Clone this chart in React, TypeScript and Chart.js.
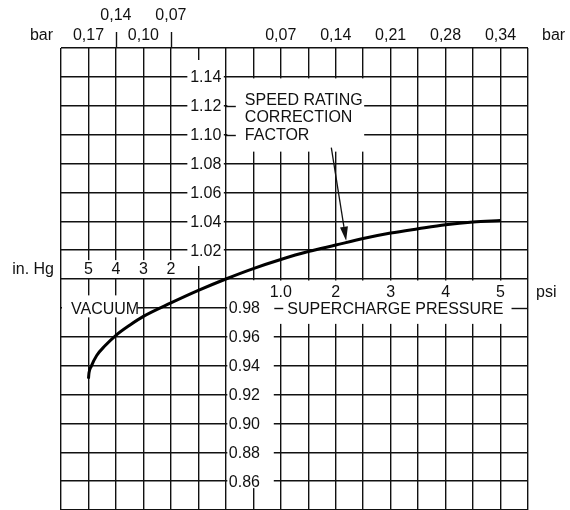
import React, { useEffect, useRef } from 'react';
import { Chart, registerables } from 'chart.js';

Chart.register(...registerables);

// Speed rating correction factor vs. pressure.
// x axis in psi (vacuum drawn to the left; 1 in.Hg is drawn as 0.5 psi on this chart)
const pressurePsi = [-2.5, -2.49, -2.45, -2.35, -2.2, -2.0, -1.75, -1.5, -1.0, -0.5, 0, 0.5, 1.0, 1.5, 2.0, 2.5, 3.0, 3.5, 4.0, 4.5, 5.0];
const correctionFactor = [0.931, 0.935, 0.9395, 0.947, 0.9537, 0.961, 0.968, 0.9741, 0.9834, 0.9921, 1.0, 1.0072, 1.0135, 1.019, 1.0235, 1.028, 1.0318, 1.0348, 1.0376, 1.0395, 1.0405];

const factorTicksUpper = [1.14, 1.12, 1.10, 1.08, 1.06, 1.04, 1.02];
const factorTicksLower = [0.98, 0.96, 0.94, 0.92, 0.90, 0.88, 0.86];

const psiTicks = [1, 2, 3, 4, 5];
const psiTickLabels = ['1.0', '2', '3', '4', '5'];
const vacuumInHg = [5, 4, 3, 2];

const barRightLabels = ['0,07', '0,14', '0,21', '0,28', '0,34']; // at psi 1..5
const barRightPsi = [1, 2, 3, 4, 5];
const barLeftLowerLabels = ['0,17', '0,10'];
const barLeftLowerInHg = [5, 3];
const barLeftUpperLabels = ['0,14', '0,07'];
const barLeftUpperInHg = [4, 2];

const titleLines = ['SPEED RATING', 'CORRECTION', 'FACTOR'];
const arrowFrom = { x: 1.92, y: 1.091 };
const arrowTo = { x: 2.19, y: 1.0265 };

const IN_HG_TO_AXIS = 0.5;
const X_MIN = -3, X_MAX = 5.5, X_STEP = 0.5;
const Y_MIN = 0.84, Y_MAX = 1.16, Y_STEP = 0.02;

const FONT = '16px "Liberation Sans", Arial, Helvetica, sans-serif';
const INK = '#111';

const overlay = {
  id: 'overlay',
  beforeDatasetsDraw(chart: any) {
    const ctx = chart.ctx as CanvasRenderingContext2D;
    const xs = chart.scales.x, ys = chart.scales.y;
    const px = (v: number) => xs.getPixelForValue(v);
    const py = (v: number) => ys.getPixelForValue(v);
    const { left, right, top } = chart.chartArea;
    ctx.save();
    ctx.fillStyle = '#fff';
    const box = (x0: number, y0: number, x1: number, y1: number) => ctx.fillRect(x0, y0, x1 - x0, y1 - y0);
    // upper factor label column
    box(px(-0.5) - 11, top + 12, px(0) - 2, py(1.0) - 13);
    // lower factor label column
    box(px(0) + 1.5, py(1.0) + 1.5, px(0.5) + 20.5, py(0.86) + 7);
    // psi rows
    box(px(0) + 1.5, py(1.0) + 1.5, right - 1, py(0.98) + 16);
    // in.Hg row
    box(left + 1, py(1.02) + 10, px(-0.5) - 11, py(1.0) - 1);
    // VACUUM label
    box(left + 1, py(0.98) - 12.5, px(-1.5) - 6, py(0.98) + 9.5);
    // title block
    box(px(0) + 1.5, py(1.14) + 1.5, px(2.5) + 1, py(1.10) + 17);

    ctx.strokeStyle = INK;
    ctx.lineWidth = 1.4;
    const seg = (x0: number, x1: number, y: number) => {
      ctx.beginPath(); ctx.moveTo(x0, y); ctx.lineTo(x1, y); ctx.stroke();
    };
    seg(px(0), px(0) + 10, Math.round(py(1.12)) + 0.5);
    seg(px(0), px(0) + 10, Math.round(py(1.10)) + 0.5);
    seg(px(0.5) + 21, px(1) + 2.5, Math.round(py(0.98)) + 0.5);
    seg(px(5) + 11, right, Math.round(py(0.98)) + 0.5);

    ctx.fillStyle = INK;
    ctx.font = FONT;
    ctx.textBaseline = 'alphabetic';
    // factor labels
    ctx.textAlign = 'right';
    factorTicksUpper.forEach(v => ctx.fillText(v.toFixed(2), px(0) - 4.5, py(v) + 5.5));
    ctx.textAlign = 'left';
    factorTicksLower.forEach(v => ctx.fillText(v.toFixed(2), px(0) + 3, py(v) + 5.5));
    // psi labels
    ctx.textAlign = 'center';
    psiTicks.forEach((v, i) => ctx.fillText(psiTickLabels[i], px(v), py(1.0) + 17.5));
    // vacuum labels
    vacuumInHg.forEach(v => ctx.fillText(String(v), px(-v * IN_HG_TO_AXIS), py(1.0) - 5));
    ctx.textAlign = 'left';
    ctx.fillText('SUPERCHARGE PRESSURE', px(1) + 6.5, py(0.98) + 6.5);
    ctx.fillText('VACUUM', left + 10, py(0.98) + 6.5);
    titleLines.forEach((t, i) => ctx.fillText(t, px(0) + 19, py(1.12) - 1 + i * 17.7));
    ctx.restore();
  },
  afterDatasetsDraw(chart: any) {
    const ctx = chart.ctx as CanvasRenderingContext2D;
    const xs = chart.scales.x, ys = chart.scales.y;
    const px = (v: number) => xs.getPixelForValue(v);
    const py = (v: number) => ys.getPixelForValue(v);
    const { left, right, top } = chart.chartArea;
    ctx.save();
    // arrow
    const x0 = px(arrowFrom.x), y0 = py(arrowFrom.y);
    const x1 = px(arrowTo.x), y1 = py(arrowTo.y);
    const ang = Math.atan2(y1 - y0, x1 - x0);
    const headLen = 14, headHalf = 4;
    const bx = x1 - headLen * Math.cos(ang), by = y1 - headLen * Math.sin(ang);
    ctx.strokeStyle = INK; ctx.fillStyle = INK; ctx.lineWidth = 1.3;
    ctx.beginPath(); ctx.moveTo(x0, y0); ctx.lineTo(bx, by); ctx.stroke();
    ctx.beginPath();
    ctx.moveTo(x1, y1);
    ctx.lineTo(bx + headHalf * Math.sin(ang), by - headHalf * Math.cos(ang));
    ctx.lineTo(bx - headHalf * Math.sin(ang), by + headHalf * Math.cos(ang));
    ctx.closePath(); ctx.fill();

    // outside labels
    ctx.font = FONT;
    ctx.textBaseline = 'alphabetic';
    ctx.textAlign = 'center';
    barRightLabels.forEach((t, i) => ctx.fillText(t, px(barRightPsi[i]), top - 8));
    barLeftLowerLabels.forEach((t, i) => ctx.fillText(t, px(-barLeftLowerInHg[i] * IN_HG_TO_AXIS), top - 8));
    barLeftUpperLabels.forEach((t, i) => ctx.fillText(t, px(-barLeftUpperInHg[i] * IN_HG_TO_AXIS), top - 28));
    ctx.textAlign = 'right';
    ctx.fillText('bar', left - 8, top - 8);
    ctx.fillText('in. Hg', left - 7, py(1.0) - 5);
    ctx.textAlign = 'left';
    ctx.fillText('bar', right + 14, top - 8);
    ctx.fillText('psi', right + 8, py(1.0) + 17.5);
    // leader ticks above the grid
    ctx.lineWidth = 1.4;
    barLeftUpperInHg.forEach(v => {
      const x = Math.round(px(-v * IN_HG_TO_AXIS)) + 0.5;
      ctx.beginPath(); ctx.moveTo(x, top - 16); ctx.lineTo(x, top); ctx.stroke();
    });
    ctx.restore();
  },
};

export default function App() {
  const ref = useRef<HTMLCanvasElement | null>(null);
  useEffect(() => {
    if (!ref.current) return;
    const chart = new Chart(ref.current, {
      type: 'line',
      data: {
        datasets: [{
          data: pressurePsi.map((x, i) => ({ x, y: correctionFactor[i] })),
          borderColor: '#000',
          borderWidth: 3,
          pointRadius: 0,
          cubicInterpolationMode: 'monotone',
          fill: false,
        }],
      },
      options: {
        responsive: false,
        animation: false,
        devicePixelRatio: 1,
        layout: { padding: { left: 61, top: 48, right: 42, bottom: 0 } },
        plugins: { legend: { display: false }, tooltip: { enabled: false } },
        scales: {
          x: {
            type: 'linear', min: X_MIN, max: X_MAX,
            ticks: { display: false },
            grid: { color: INK, lineWidth: 1.4, drawTicks: false },
            border: { display: false },
            afterBuildTicks: (s: any) => {
              const t = [];
              for (let i = 0; i <= Math.round((X_MAX - X_MIN) / X_STEP); i++) t.push({ value: X_MIN + i * X_STEP });
              s.ticks = t;
            },
          },
          y: {
            type: 'linear', min: Y_MIN, max: Y_MAX,
            ticks: { display: false },
            grid: { color: INK, lineWidth: 1.4, drawTicks: false },
            border: { display: false },
            afterBuildTicks: (s: any) => {
              const t = [];
              for (let i = 0; i <= Math.round((Y_MAX - Y_MIN) / Y_STEP); i++) t.push({ value: Y_MIN + i * Y_STEP });
              s.ticks = t;
            },
          },
        },
      },
      plugins: [overlay],
    } as any);
    return () => chart.destroy();
  }, []);
  return (
    <div style={{ position: 'absolute', left: 0, top: 0, width: 570, height: 510, background: '#fff' }}>
      <canvas ref={ref} width={570} height={510} style={{ display: 'block' }} />
    </div>
  );
}
